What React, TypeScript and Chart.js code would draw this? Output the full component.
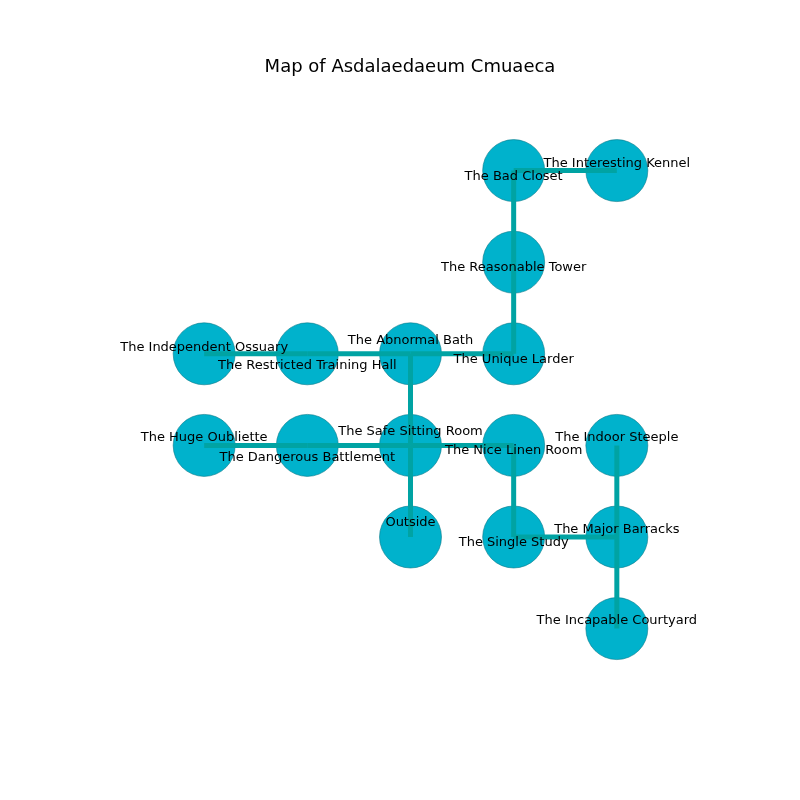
import React, { useEffect, useRef } from "react";
import { Chart, registerables } from "chart.js";
Chart.register(...registerables);

const title = "Map of Asdalaedaeum Cmuaeca";
const roomNames = [
  "The Bad Closet", "The Interesting Kennel", "The Reasonable Tower",
  "The Independent Ossuary", "The Restricted Training Hall", "The Abnormal Bath", "The Unique Larder",
  "The Huge Oubliette", "The Dangerous Battlement", "The Safe Sitting Room", "The Nice Linen Room", "The Indoor Steeple",
  "Outside", "The Single Study", "The Major Barracks", "The Incapable Courtyard",
];
const roomX = [3, 4, 3, 0, 1, 2, 3, 0, 1, 2, 3, 4, 2, 3, 4, 4];
const roomY = [0, 0, 1, 2, 2, 2, 2, 3, 3, 3, 3, 3, 4, 4, 4, 5];
const labelDy = [6, -7, 5, -6, 12, -13, 6, -8, 12, -14, 5, -8, -14, 6, -7, -8];
const edges: [number, number][] = [
  [0, 1], [0, 2], [2, 6], [3, 4], [4, 5], [5, 6], [5, 9],
  [7, 8], [8, 9], [9, 10], [9, 12], [10, 13], [13, 14], [11, 14], [14, 15],
];

export default function App() {
  const ref = useRef<HTMLCanvasElement>(null);
  useEffect(() => {
    const edgeSets = edges.map(([a, b]) => ({
      type: "line" as const,
      data: [{ x: roomX[a], y: roomY[a] }, { x: roomX[b], y: roomY[b] }],
      borderColor: "#00a3a3",
      borderWidth: 5,
      pointRadius: 0,
      showLine: true,
    }));
    const nodeSet = {
      type: "scatter" as const,
      data: roomX.map((x, i) => ({ x, y: roomY[i] })),
      backgroundColor: "#00b2cc",
      borderColor: "#0a7a8a",
      borderWidth: 0.6,
      pointRadius: 31,
      pointHoverRadius: 31,
    };
    const plugin = {
      id: "labels",
      afterDatasetsDraw(chart: any) {
        const ctx = chart.ctx;
        const xs = chart.scales.x, ys = chart.scales.y;
        ctx.save();
        ctx.fillStyle = "#000";
        ctx.font = '13px "DejaVu Sans"';
        ctx.textAlign = "center";
        ctx.textBaseline = "middle";
        roomNames.forEach((n, i) => {
          ctx.fillText(n, xs.getPixelForValue(roomX[i]), ys.getPixelForValue(roomY[i]) + labelDy[i]);
        });
        ctx.font = '18px "DejaVu Sans"';
        ctx.fillText(title, 410, 67);
        ctx.restore();
      },
    };
    const chart = new Chart(ref.current!, {
      type: "scatter",
      data: { datasets: [...edgeSets, nodeSet] as any },
      options: {
        animation: false,
        responsive: false,
        events: [],
        layout: { padding: { left: 101, right: 80, top: 79, bottom: 34 } },
        plugins: { legend: { display: false }, tooltip: { enabled: false } },
        scales: {
          x: { display: false, min: -1, max: 5 },
          y: { display: false, min: -1, max: 6.5, reverse: true },
        },
      },
      plugins: [plugin],
    });
    return () => chart.destroy();
  }, []);
  return <canvas ref={ref} width={800} height={800} style={{ position: "absolute", left: 0, top: 0 }} />;
}
